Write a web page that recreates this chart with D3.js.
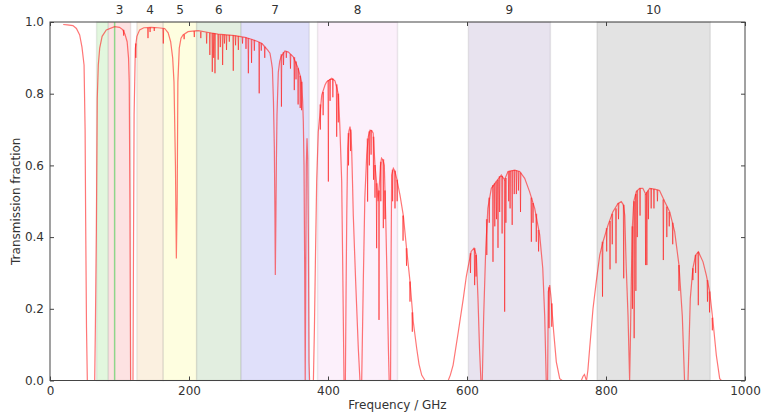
<!DOCTYPE html>
<html>
<head>
<meta charset="utf-8">
<script src="https://cdn.jsdelivr.net/npm/d3@7"></script>
<style>
  body { margin: 0; background: #fff; }
  text { font-family: "DejaVu Sans", sans-serif; fill: #333; }
</style>
</head>
<body>
<div id="chart"></div>
<script>
// Atmospheric transmission with receiver bands

// band shading (GHz)
var bandLabels = ["", "3", "4", "5", "6", "7", "8", "9", "10"];
var bandLow = [67, 84, 125, 163, 211, 275, 385, 602, 787];
var bandHigh = [84, 116, 163, 211, 275, 373, 500, 720, 950];
var bandFill = ["#e2f7de", "#fde2e2", "#fbf0e0", "#fefee0", "#e2eee0", "#e0e0fa", "#fcf0fb", "#e8e3ef", "#e3e3e3"];
var markerFreq = 93;

var xTicks = [0, 200, 400, 600, 800, 1000];
var yTicks = [0.0, 0.2, 0.4, 0.6, 0.8, 1.0];

// smooth envelope of the transmission curve [GHz, fraction]
var envelope = [
  [19, 0.993], [25, 0.992], [33, 0.99], [38, 0.982], [42.7, 0.964], [46, 0.93], [49, 0.88],
  [50.5, 0.7], [51.3, 0.45], [52.5, 0.15], [53.7, 0], [64.3, 0], [65.3, 0.15], [66.7, 0.415],
  [68, 0.787], [69.5, 0.88], [71.5, 0.927], [75, 0.96], [81, 0.978], [93, 0.987], [100, 0.985],
  [105, 0.978], [108, 0.965], [111, 0.945], [113, 0.9], [114, 0.833], [115, 0.5], [116, 0],
  [119.4, 0], [120.2, 0.4], [121, 0.74], [122.8, 0.927], [125, 0.96], [129, 0.978], [135, 0.984],
  [145.8, 0.985], [155, 0.984], [165, 0.982], [170, 0.97], [173.6, 0.945], [176.5, 0.9],
  [178.4, 0.833], [180.5, 0.6], [181.8, 0.34], [183, 0.5], [184, 0.833], [186, 0.927],
  [188.5, 0.955], [191.4, 0.964], [198.6, 0.973], [208.6, 0.975], [213.4, 0.976], [230, 0.97],
  [242, 0.966], [266, 0.962], [280.6, 0.957], [290, 0.952], [299.7, 0.945], [305, 0.94],
  [309, 0.931], [313, 0.922], [316.5, 0.913], [318.5, 0.89], [320, 0.87], [321.5, 0.78],
  [322.8, 0.648], [323.7, 0.45], [324.2, 0.294], [325, 0.45], [325.8, 0.62], [326.6, 0.74],
  [328.5, 0.86], [330.5, 0.89], [332.4, 0.903], [338, 0.919], [343, 0.916], [350, 0.903],
  [357, 0.871], [360, 0.85], [362, 0.833], [363.5, 0.78], [364.5, 0.722], [365.5, 0.6],
  [366.5, 0.3], [367.2, 0], [368, 0.3], [368.8, 0.6], [369.8, 0.676], [370.8, 0.62],
  [371.8, 0.4], [372.7, 0.05], [373.5, 0], [379, 0], [380.5, 0.15], [382, 0.35], [383.7, 0.555],
  [386, 0.694], [391, 0.796], [395.7, 0.824], [398, 0.833], [405.3, 0.843], [410, 0.836],
  [413, 0.815], [415, 0.796], [417, 0.712], [419.7, 0.555], [421, 0.35], [422, 0.18], [423, 0],
  [425, 0], [426, 0.25], [427, 0.46], [428.3, 0.648], [430, 0.695], [431.7, 0.708], [433, 0.69],
  [434, 0.648], [435.3, 0.55], [436.4, 0.46], [439.8, 0.276], [443.6, 0.09], [446, 0],
  [448.5, 0], [450.8, 0.276], [453, 0.51], [455.7, 0.629], [458, 0.68], [460.4, 0.698],
  [463, 0.697], [465, 0.69], [467.6, 0.601], [470, 0.55], [472, 0.5], [474, 0.55], [475.5, 0.6],
  [477, 0.62], [479, 0.615], [481, 0.6], [483, 0.46], [485, 0.28], [487, 0.08], [488, 0],
  [490, 0], [490.8, 0.35], [491.6, 0.573], [494, 0.592], [496, 0.585], [498.8, 0.564],
  [503.6, 0.517], [508.4, 0.46], [513, 0.369], [518, 0.276], [522.7, 0.164], [527.6, 0.09],
  [531, 0.045], [534.8, 0.015], [539.6, 0], [573, 0], [576, 0.015], [580, 0.043], [587.5, 0.136],
  [594.7, 0.229], [599, 0.29], [601.9, 0.32], [606, 0.36], [610, 0.369], [613.4, 0.35],
  [615.8, 0.229], [618, 0.09], [620, 0], [622, 0], [624, 0.18], [627, 0.369], [630, 0.48],
  [635, 0.536], [642, 0.555], [649.4, 0.573], [654, 0.56], [659, 0.583], [668.6, 0.587],
  [675.8, 0.583], [683, 0.564], [690, 0.527], [697.4, 0.48], [704.6, 0.406], [709, 0.313],
  [711.8, 0.18], [714, 0], [716, 0], [717, 0.248], [719, 0.266], [721, 0.229], [724.7, 0.136],
  [728.5, 0.052], [733.4, 0.005], [737, 0], [764.5, 0], [767, 0.012], [769, 0.017], [771, 0.005],
  [772, 0], [774, 0.03], [776.5, 0.09], [781.3, 0.2], [786, 0.276], [791, 0.35], [795.7, 0.387],
  [803, 0.434], [810, 0.471], [817.3, 0.494], [822, 0.499], [825, 0.49], [827, 0.46],
  [829, 0.322], [831.7, 0.18], [834, 0], [835, 0.1], [836.4, 0.276], [838, 0.43], [840, 0.5],
  [843.6, 0.527], [848.4, 0.536], [853, 0.536], [857, 0.52], [862.8, 0.536], [870, 0.534],
  [877, 0.53], [884.4, 0.499], [891.6, 0.471], [898.8, 0.415], [905, 0.322], [909.8, 0.18],
  [913, 0], [918, 0], [921.3, 0.229], [925, 0.313], [929, 0.35], [933, 0.359], [939.6, 0.331],
  [944.3, 0.294], [949.2, 0.248], [954, 0.164], [958.7, 0.071], [963.6, 0.005], [966, 0],
  [1000, 0]
];

// narrow absorption lines [GHz, top, bottom]
var dips = [
  [106, 0.978, 0.962], [123.5, 0.94, 0.9], [141, 0.984, 0.955], [144, 0.985, 0.972],
  [150, 0.985, 0.975], [163, 0.982, 0.94], [193, 0.965, 0.952], [207.6, 0.975, 0.958],
  [217, 0.973, 0.955], [225.4, 0.971, 0.94], [230, 0.97, 0.908], [233.5, 0.969, 0.861],
  [235.5, 0.969, 0.9], [237.4, 0.968, 0.857], [242, 0.966, 0.895], [245, 0.965, 0.93],
  [248.4, 0.965, 0.88], [251, 0.965, 0.94], [254, 0.964, 0.922], [258, 0.964, 0.945],
  [263.7, 0.963, 0.864], [267, 0.962, 0.935], [271, 0.961, 0.922], [277, 0.958, 0.94],
  [282, 0.957, 0.925], [285.4, 0.955, 0.857], [290, 0.952, 0.886], [294, 0.95, 0.92],
  [301, 0.944, 0.801], [304, 0.941, 0.92], [309, 0.931, 0.9], [333, 0.91, 0.764],
  [336, 0.916, 0.88], [340, 0.918, 0.9], [346, 0.91, 0.87], [351.5, 0.902, 0.81],
  [354, 0.89, 0.84], [357, 0.871, 0.77], [360, 0.85, 0.76], [362, 0.833, 0.754],
  [389, 0.77, 0.7], [393, 0.805, 0.74], [400.5, 0.838, 0.555], [403, 0.841, 0.78],
  [407, 0.842, 0.79], [412.5, 0.826, 0.68], [414.8, 0.8, 0.72], [429.5, 0.69, 0.6],
  [432.5, 0.7, 0.64], [457, 0.675, 0.499], [459.5, 0.695, 0.6], [462, 0.698, 0.63],
  [465.5, 0.68, 0.56], [467.6, 0.601, 0.51], [470, 0.55, 0.369], [473.4, 0.53, 0.169],
  [476, 0.61, 0.5], [479.6, 0.617, 0.425], [482, 0.53, 0.45], [493, 0.588, 0.5],
  [496.4, 0.585, 0.48], [499.5, 0.56, 0.5], [508, 0.46, 0.39], [513, 0.369, 0.32],
  [518, 0.276, 0.22], [521.3, 0.19, 0.136],
  [605, 0.355, 0.3], [611, 0.369, 0.266], [613, 0.35, 0.29], [628.5, 0.45, 0.35],
  [632, 0.51, 0.44], [637.4, 0.545, 0.331], [640, 0.55, 0.43], [642.5, 0.555, 0.45],
  [644.6, 0.56, 0.37], [647, 0.57, 0.47], [650.5, 0.57, 0.41], [654.2, 0.56, 0.192],
  [656, 0.565, 0.44], [660, 0.583, 0.5], [662, 0.585, 0.48], [665, 0.586, 0.434],
  [668, 0.587, 0.52], [671, 0.586, 0.52], [674, 0.584, 0.53], [677, 0.58, 0.47],
  [692.6, 0.51, 0.387], [695, 0.495, 0.44], [699.7, 0.465, 0.387], [703, 0.42, 0.36],
  [718, 0.26, 0.146], [722, 0.215, 0.15],
  [795, 0.387, 0.234], [801, 0.425, 0.36], [805.8, 0.445, 0.31], [809, 0.465, 0.38],
  [814.4, 0.48, 0.327], [818, 0.495, 0.45], [825.5, 0.49, 0.285], [838, 0.43, 0.2],
  [840.5, 0.5, 0.118], [843, 0.52, 0.25], [845, 0.53, 0.4], [849, 0.536, 0.46],
  [857, 0.52, 0.322], [858.8, 0.525, 0.322], [861, 0.53, 0.45], [865, 0.536, 0.48],
  [869, 0.534, 0.48], [874, 0.532, 0.5], [882.5, 0.505, 0.336], [887.5, 0.485, 0.4],
  [891, 0.47, 0.43], [896, 0.44, 0.38], [905, 0.322, 0.25], [925, 0.313, 0.28],
  [929, 0.35, 0.3], [932.8, 0.359, 0.21], [946, 0.28, 0.22], [949, 0.248, 0.19],
  [953, 0.175, 0.14]
];

// layout
var width = 761;
var height = 418;
var plotLeft = 50, plotRight = 745, plotTop = 22, plotBottom = 380.5;

var svg = d3.select("#chart")
            .append("svg")
            .attr("width", width)
            .attr("height", height);

var x = d3.scaleLinear().domain([0, 1000]).range([plotLeft, plotRight]);
var y = d3.scaleLinear().domain([0, 1]).range([plotBottom, plotTop]);

// band shading
svg.selectAll(".band")
   .data(bandLow)
   .enter()
   .append("rect")
   .attr("class", "band")
   .attr("x", function(d) { return x(d); })
   .attr("y", plotTop)
   .attr("width", function(d, i) { return x(bandHigh[i]) - x(d); })
   .attr("height", plotBottom - plotTop)
   .attr("fill", function(d, i) { return bandFill[i]; })
   .attr("stroke", "#000")
   .attr("stroke-opacity", 0.08)
   .attr("stroke-width", 1.5);

svg.append("line")
   .attr("x1", x(markerFreq)).attr("x2", x(markerFreq))
   .attr("y1", plotTop).attr("y2", plotBottom)
   .attr("stroke", "#8fd68a")
   .attr("stroke-width", 1.5);

// band numbers above the frame
svg.selectAll(".bandLabel")
   .data(bandLabels)
   .enter()
   .append("text")
   .attr("class", "bandLabel")
   .attr("x", function(d, i) { return x((bandLow[i] + bandHigh[i]) / 2); })
   .attr("y", 14)
   .attr("text-anchor", "middle")
   .attr("font-size", 12)
   .text(function(d) { return d; });

// transmission curve
var line = d3.line()
             .x(function(d) { return x(d[0]); })
             .y(function(d) { return y(d[1]); });

svg.append("path")
   .datum(envelope)
   .attr("d", line)
   .attr("fill", "none")
   .attr("stroke", "#ff1a1a")
   .attr("stroke-opacity", 0.6)
   .attr("stroke-width", 1.2);

svg.selectAll(".dip")
   .data(dips)
   .enter()
   .append("path")
   .attr("class", "dip")
   .attr("d", function(d) {
       return "M" + (x(d[0]) - 0.4) + "," + y(d[1]) + "L" + x(d[0]) + "," + y(d[2]) +
              "L" + (x(d[0]) + 0.4) + "," + y(d[1]);
   })
   .attr("fill", "none")
   .attr("stroke", "#ff1a1a")
   .attr("stroke-opacity", 0.6)
   .attr("stroke-width", 1);

// axes: matplotlib-style inward ticks on all four sides
var axisColor = "#444";

svg.append("g")
   .attr("transform", "translate(0," + plotBottom + ")")
   .call(d3.axisBottom(x).tickValues(xTicks).tickSizeInner(-4).tickSizeOuter(0).tickPadding(6)
           .tickFormat(d3.format("d")));
svg.append("g")
   .attr("transform", "translate(0," + plotTop + ")")
   .call(d3.axisTop(x).tickValues(xTicks).tickSizeInner(-4).tickSizeOuter(0).tickFormat(""));
svg.append("g")
   .attr("transform", "translate(" + plotLeft + ",0)")
   .call(d3.axisLeft(y).tickValues(yTicks).tickSizeInner(-4).tickSizeOuter(0).tickPadding(6)
           .tickFormat(d3.format(".1f")));
svg.append("g")
   .attr("transform", "translate(" + plotRight + ",0)")
   .call(d3.axisRight(y).tickValues(yTicks).tickSizeInner(-4).tickSizeOuter(0).tickFormat(""));

svg.selectAll(".domain").remove();
svg.selectAll(".tick line").attr("stroke", axisColor);
svg.selectAll(".tick text")
   .attr("font-size", 12)
   .attr("font-family", "DejaVu Sans, sans-serif")
   .attr("fill", "#333");

svg.append("rect")
   .attr("x", plotLeft).attr("y", plotTop)
   .attr("width", plotRight - plotLeft).attr("height", plotBottom - plotTop)
   .attr("fill", "none")
   .attr("stroke", axisColor)
   .attr("stroke-width", 1);

// axis titles
svg.append("text")
   .attr("x", (plotLeft + plotRight) / 2)
   .attr("y", 409)
   .attr("text-anchor", "middle")
   .attr("font-size", 12)
   .text("Frequency / GHz");

svg.append("text")
   .attr("transform", "translate(20," + (plotTop + plotBottom) / 2 + ") rotate(-90)")
   .attr("text-anchor", "middle")
   .attr("font-size", 12)
   .text("Transmission fraction");
</script>
</body>
</html>
